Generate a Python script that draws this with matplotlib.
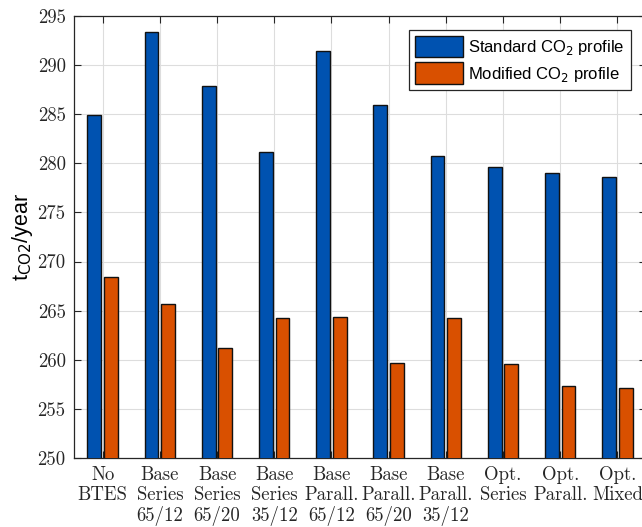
import matplotlib
matplotlib.use('Agg')
import matplotlib.pyplot as plt
import numpy as np

# data
categories = ['No\nBTES', 'Base\nSeries\n65/12', 'Base\nSeries\n65/20', 'Base\nSeries\n35/12',
              'Base\nParall.\n65/12', 'Base\nParall.\n65/20', 'Base\nParall.\n35/12',
              'Opt.\nSeries', 'Opt.\nParall.', 'Opt.\nMixed']
standard = [284.9, 293.4, 287.9, 281.1, 291.4, 285.9, 280.7, 279.6, 279.05, 278.6]
modified = [268.4, 265.7, 261.2, 264.3, 264.4, 259.7, 264.2, 259.6, 257.3, 257.1]

x = np.arange(1, len(categories) + 1)
w = 0.24
off = 0.145

fig = plt.figure(figsize=(6.42, 5.27), dpi=100)
ax = fig.add_axes([0.1153, 0.131, 0.891, 0.8387])

ax.bar(x - off, standard, w, color='#0052B0', edgecolor='#111111', linewidth=1.0,
       label='Standard CO$_2$ profile', zorder=3)
ax.bar(x + off, modified, w, color='#D95000', edgecolor='#111111', linewidth=1.0,
       label='Modified CO$_2$ profile', zorder=3)

ax.set_xlim(0.5, 10.5)
ax.set_ylim(250, 295)
ax.set_yticks(np.arange(250, 296, 5))
ax.set_xticks(x)
ax.set_xticklabels(categories, fontfamily='cmr10', fontsize=13.5, linespacing=1.12)
for lab in ax.get_yticklabels():
    lab.set_fontfamily('cmr10')
    lab.set_fontsize(13.5)

ax.grid(True, color='#dddddd', linewidth=0.8, zorder=0)
ax.set_axisbelow(True)
ax.tick_params(direction='in', top=True, right=True, length=5, color='#262626',
               labelcolor='#262626', pad=6)
for s in ax.spines.values():
    s.set_color('#262626')
    s.set_linewidth(0.9)

ax.set_ylabel('t$_{\\mathsf{CO2}}$/year', fontfamily='Liberation Sans', fontsize=15.5, labelpad=2)

leg = ax.legend(loc='upper right', bbox_to_anchor=(0.973, 0.968), fancybox=False,
                edgecolor='#262626', framealpha=1, prop={'family': 'Liberation Sans', 'size': 12},
                handlelength=2.9, handleheight=1.6, borderpad=0.35, labelspacing=0.3,
                handletextpad=0.3, borderaxespad=0)
leg.get_frame().set_linewidth(0.9)

fig.savefig('out.png', dpi=100)
